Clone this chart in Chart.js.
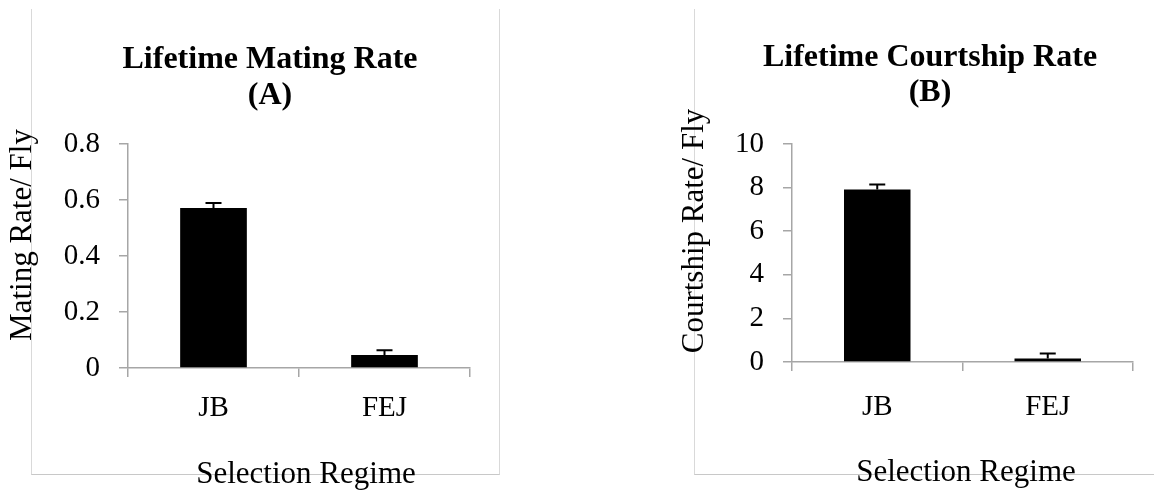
<!DOCTYPE html>
<html>
<head>
<meta charset="utf-8">
<script src="https://cdn.jsdelivr.net/npm/chart.js@4/dist/chart.umd.min.js"></script>
<style>
  body { margin: 0; background: #fff; width: 1154px; height: 491px; overflow: hidden; position: relative; }
  .frame { position: absolute; top: 9px; height: 466px; border-left: 1px solid #d9d9d9; border-bottom: 1px solid #c8c8c8; box-sizing: border-box; }
  #frameA { left: 31px; width: 469px; border-right: 1px solid #d9d9d9; }
  #frameB { left: 694px; width: 470px; }
  canvas { position: absolute; top: 0; }
  #chartA { left: 0; }
  #chartB { left: 577px; }
</style>
</head>
<body>
<div class="frame" id="frameA"></div>
<div class="frame" id="frameB"></div>
<canvas id="chartA" width="577" height="491"></canvas>
<canvas id="chartB" width="577" height="491"></canvas>
<script>
// data
var regimes = ['JB', 'FEJ'];
var matingRate = [0.571, 0.046];
var matingErr = [0.018, 0.017];
var courtshipRate = [7.91, 0.16];
var courtshipErr = [0.23, 0.23];

var serif = "'Liberation Serif', 'Times New Roman', serif";
var axisGray = '#a6a6a6';

// upper error whiskers, placed through the y scale
var errorBars = {
    id: 'errorBars',
    afterDatasetsDraw: function (chart) {
        var errs = chart.options.plugins.errorBars.errors;
        var meta = chart.getDatasetMeta(0);
        var y = chart.scales.y;
        var vals = chart.data.datasets[0].data;
        var ctx = chart.ctx;
        ctx.save();
        ctx.strokeStyle = '#000';
        ctx.lineWidth = 2;
        meta.data.forEach(function (bar, i) {
            var top = y.getPixelForValue(vals[i] + errs[i]);
            var base = y.getPixelForValue(vals[i]);
            ctx.beginPath();
            ctx.moveTo(bar.x, base);
            ctx.lineTo(bar.x, top);
            ctx.moveTo(bar.x - 8, top);
            ctx.lineTo(bar.x + 8, top);
            ctx.stroke();
        });
        ctx.restore();
    }
};

// chart title and axis titles
var panelText = {
    id: 'panelText',
    afterDraw: function (chart) {
        var o = chart.options.plugins.panelText;
        var ctx = chart.ctx;
        ctx.save();
        ctx.fillStyle = '#000';
        ctx.textAlign = 'center';
        ctx.textBaseline = 'alphabetic';
        ctx.font = 'bold 32px ' + serif;
        ctx.fillText(o.title[0], o.titleX, o.titleY[0]);
        ctx.fillText(o.title[1], o.titleX, o.titleY[1]);
        ctx.font = '31px ' + serif;
        ctx.fillText(o.xTitle, o.xTitleX, o.xTitleY);
        ctx.translate(o.yTitleX, o.yTitleY);
        ctx.rotate(-Math.PI / 2);
        ctx.fillText(o.yTitle, 0, 0);
        ctx.restore();
    }
};

function makePanel(id, values, errors, yMax, yStep, axisW, plotRight, plotBottom, labelPad, text) {
    new Chart(document.getElementById(id), {
        type: 'bar',
        data: {
            labels: regimes,
            datasets: [{
                data: values,
                backgroundColor: '#000',
                borderWidth: 0,
                barPercentage: 0.39,
                categoryPercentage: 1
            }]
        },
        options: {
            responsive: false,
            animation: false,
            devicePixelRatio: 1,
            layout: { padding: { left: 0, top: 144, right: 577 - plotRight, bottom: 491 - plotBottom - 60 } },
            plugins: {
                legend: { display: false },
                tooltip: { enabled: false },
                title: { display: false },
                errorBars: { errors: errors },
                panelText: text
            },
            scales: {
                x: {
                    afterFit: function (s) { s.height = 60; },
                    grid: { display: true, drawOnChartArea: false, drawTicks: true, tickLength: 9, color: axisGray, lineWidth: 1.5, offset: true },
                    border: { display: true, color: axisGray, width: 1.5 },
                    ticks: { color: '#000', padding: labelPad, font: { family: serif, size: 29 } }
                },
                y: {
                    min: 0,
                    max: yMax,
                    afterFit: function (s) { s.width = axisW; },
                    grid: { display: true, drawOnChartArea: false, drawTicks: true, tickLength: 9, color: axisGray, lineWidth: 1.5 },
                    border: { display: true, color: axisGray, width: 1.5 },
                    ticks: { stepSize: yStep, color: '#000', padding: 19, font: { family: serif, size: 29 } }
                }
            }
        },
        plugins: [errorBars, panelText]
    });
}

makePanel('chartA', matingRate, matingErr, 0.8, 0.2, 128, 470, 368, 14, {
    title: ['Lifetime Mating Rate', '(A)'], titleX: 270, titleY: [68, 104],
    xTitle: 'Selection Regime', xTitleX: 306, xTitleY: 483,
    yTitle: 'Mating Rate/ Fly', yTitleX: 31, yTitleY: 235
});

makePanel('chartB', courtshipRate, courtshipErr, 10, 2, 215, 556, 362, 19, {
    title: ['Lifetime Courtship Rate', '(B)'], titleX: 353, titleY: [66, 101],
    xTitle: 'Selection Regime', xTitleX: 389, xTitleY: 481,
    yTitle: 'Courtship Rate/ Fly', yTitleX: 126, yTitleY: 231
});
</script>
</body>
</html>
